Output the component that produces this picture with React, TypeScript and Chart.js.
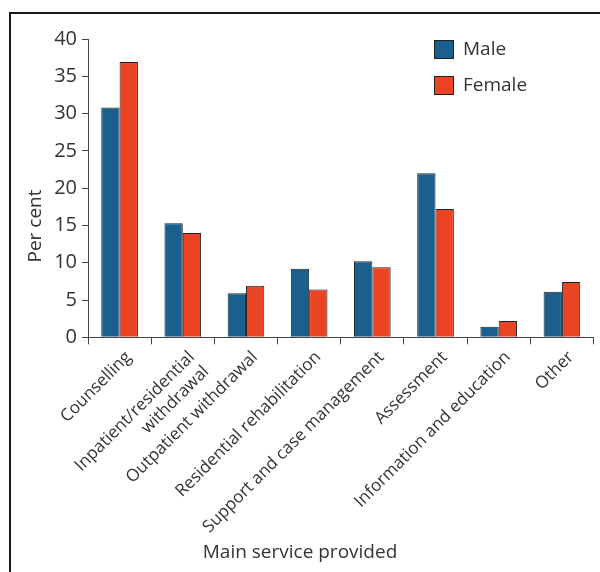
import React, { useEffect, useRef } from "react";
import { Chart, registerables } from "chart.js";

Chart.register(...registerables);

const categories: (string | string[])[] = [
  "Counselling",
  ["Inpatient/residential", "withdrawal"],
  "Outpatient withdrawal",
  "Residential rehabilitation",
  "Support and case management",
  "Assessment",
  "Information and education",
  "Other",
];
const maleValues = [30.8, 15.3, 5.9, 9.2, 10.2, 22.0, 1.4, 6.1];
const femaleValues = [36.9, 14.0, 6.9, 6.4, 9.4, 17.2, 2.2, 7.4];
const seriesLabels = ["Male", "Female"];
const yMin = 0;
const yMax = 40;
const yStep = 5;
const yTitle = "Per cent";
const xTitle = "Main service provided";

const FONT = '"Open Sans", "Noto Sans", sans-serif';
const TEXT = "#333333";
const AXIS = "#444444";
const MALE = "#1b5f8f";
const FEMALE = "#eb4424";
const EDGE = "#222222";

const textPlugin = {
  id: "textPlugin",
  afterDraw(chart: any) {
    const ctx = chart.ctx as CanvasRenderingContext2D;
    const area = chart.chartArea;
    ctx.save();
    // legend
    chart.data.datasets.forEach((ds: any, i: number) => {
      const bx = area.left + 346;
      const by = area.top + 1 + i * 36;
      ctx.fillStyle = ds.backgroundColor;
      ctx.fillRect(bx, by, 20, 19);
      ctx.strokeStyle = EDGE;
      ctx.lineWidth = 1;
      ctx.strokeRect(bx + 0.5, by + 0.5, 19, 18);
      ctx.fillStyle = TEXT;
      ctx.font = `19px ${FONT}`;
      ctx.textBaseline = "middle";
      ctx.textAlign = "left";
      ctx.fillText(ds.label, bx + 29, by + 10);
    });
    // x title
    ctx.font = `19px ${FONT}`;
    ctx.fillStyle = TEXT;
    ctx.textAlign = "center";
    ctx.textBaseline = "middle";
    ctx.fillText(xTitle, chart.width / 2, 553);
    // y title
    ctx.translate(35.5, 226);
    ctx.rotate(-Math.PI / 2);
    ctx.fillText(yTitle, 0, 0);
    ctx.restore();
  },
};

export default function App() {
  const ref = useRef<HTMLCanvasElement | null>(null);
  useEffect(() => {
    if (!ref.current) return;
    const chart = new Chart(ref.current, {
      type: "bar",
      data: {
        labels: categories as any,
        datasets: [
          {
            label: seriesLabels[0],
            data: maleValues,
            backgroundColor: MALE,
            borderColor: EDGE,
            borderWidth: 1,
          },
          {
            label: seriesLabels[1],
            data: femaleValues,
            backgroundColor: FEMALE,
            borderColor: EDGE,
            borderWidth: 1,
          },
        ],
      },
      options: {
        animation: false,
        responsive: false,
        devicePixelRatio: 1,
        datasets: { bar: { categoryPercentage: 0.58, barPercentage: 1 } },
        layout: { padding: { left: 0, right: 6.5, top: 39, bottom: 0 } },
        plugins: { legend: { display: false }, tooltip: { enabled: false } },
        scales: {
          x: {
            grid: {
              display: true,
              drawOnChartArea: false,
              drawTicks: true,
              tickLength: 7,
              color: AXIS,
              offset: true,
            },
            border: { display: true, color: AXIS, width: 1 },
            ticks: {
              autoSkip: false,
              maxRotation: 45,
              minRotation: 45,
              padding: 3,
              labelOffset: 9,
              color: TEXT,
              font: { family: FONT, size: 17 },
            },
            afterFit: (scale: any) => {
              scale.height = 572 - 337.3;
            },
          },
          y: {
            min: yMin,
            max: yMax,
            grid: {
              display: true,
              drawOnChartArea: false,
              drawTicks: true,
              tickLength: 6,
              color: AXIS,
            },
            border: { display: true, color: AXIS, width: 1 },
            ticks: {
              stepSize: yStep,
              padding: 5,
              color: TEXT,
              font: { family: FONT, size: 20 },
            },
            afterFit: (scale: any) => {
              scale.width = 88;
            },
          },
        },
      },
      plugins: [textPlugin],
    });
    return () => chart.destroy();
  }, []);

  return (
    <div
      style={{
        position: "absolute",
        left: 0,
        top: 0,
        width: 600,
        height: 572,
        overflow: "hidden",
        background: "#ffffff",
      }}
    >
      <div
        style={{
          position: "absolute",
          left: 9,
          top: 12,
          width: 640,
          height: 640,
          border: "2px solid #1a1a1a",
        }}
      />
      <canvas
        ref={ref}
        width={600}
        height={572}
        style={{ position: "absolute", left: 0, top: 0, display: "block" }}
      />
    </div>
  );
}
